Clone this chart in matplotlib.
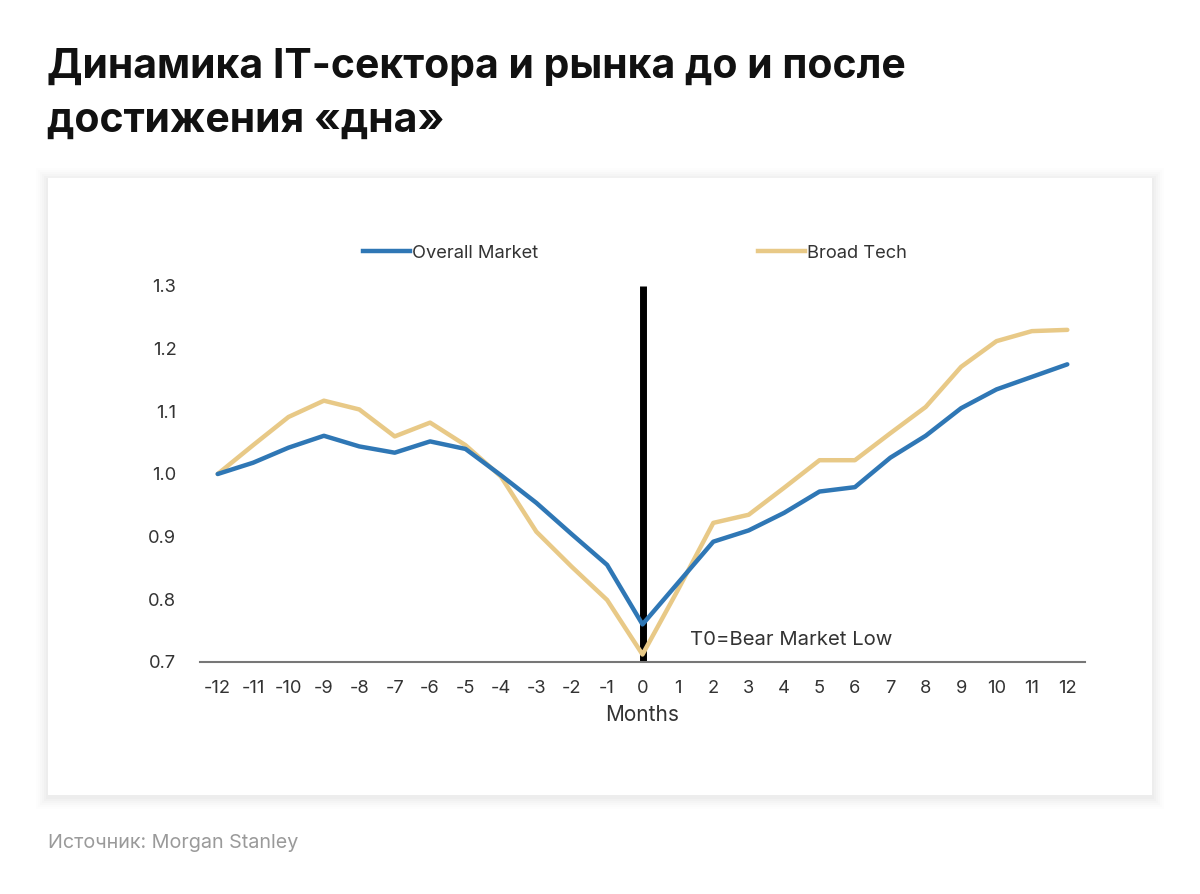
import matplotlib
matplotlib.use("Agg")
import matplotlib.pyplot as plt
from matplotlib.patches import Rectangle

months = list(range(-12, 13))
overall_market = [1.000, 1.018, 1.042, 1.061, 1.044, 1.034, 1.052, 1.040, 0.998, 0.954, 0.904, 0.855, 0.760,
                  0.826, 0.892, 0.910, 0.938, 0.972, 0.979, 1.026, 1.061, 1.105, 1.135, 1.155, 1.175]
broad_tech = [1.000, 1.046, 1.091, 1.117, 1.103, 1.060, 1.082, 1.046, 0.996, 0.908, 0.852, 0.799, 0.712,
              0.815, 0.922, 0.935, 0.978, 1.022, 1.022, 1.065, 1.107, 1.171, 1.212, 1.228, 1.230]
y_ticks = [0.7, 0.8, 0.9, 1.0, 1.1, 1.2, 1.3]

plt.rcParams['font.family'] = ['Inter', 'DejaVu Sans']

W, H = 1200, 894
fig = plt.figure(figsize=(W / 100, H / 100), dpi=100)
fig.patch.set_facecolor('white')

def fx(px):
    return px / W

def fy(py):
    return 1 - py / H

# card shadow (soft)
for i, a in enumerate([0.006, 0.008, 0.010, 0.012, 0.014, 0.016]):
    d = 12 - 2 * i
    fig.patches.append(Rectangle((fx(48 - d), fy(795 + d + 2)), fx(1104 + 2 * d), (617 + 2 * d) / H,
                                 transform=fig.transFigure, facecolor='black', alpha=a,
                                 edgecolor='none', zorder=0))
fig.patches.append(Rectangle((fx(48), fy(795)), fx(1104), 617 / H, transform=fig.transFigure,
                             facecolor='white', edgecolor='none', zorder=1))

fig.text(fx(47), fy(67), "Динамика IT-сектора и рынка до и после", fontsize=29.5,
         fontweight='bold', color='#111111', va='center', ha='left')
fig.text(fx(47), fy(121), "достижения «дна»", fontsize=29.5,
         fontweight='bold', color='#111111', va='center', ha='left')
fig.text(fx(48), fy(843), "Источник: Morgan Stanley", fontsize=14.2, color='#9a9a9a',
         va='center', ha='left')

ax = fig.add_axes([fx(200), fy(662), fx(885), 376 / H])
ax.set_facecolor('none')
ax.set_zorder(5)

blue = '#2f77b5'
gold = '#e8c987'
ax.plot(months, broad_tech, color=gold, lw=3.2, label='Broad Tech', zorder=3, solid_capstyle='round')
ax.plot(months, overall_market, color=blue, lw=3.2, label='Overall Market', zorder=4, solid_capstyle='round')
ax.vlines(0, 0.7, 1.3, color='black', lw=5, zorder=2)

ax.set_xlim(-12.5, 12.5)
ax.set_ylim(0.7, 1.3)
ax.set_xticks(months)
ax.set_xticklabels([str(m) for m in months])
ax.set_yticks(y_ticks)
ax.set_yticklabels([f"{v:.1f}" for v in y_ticks])
ax.tick_params(axis='both', length=0, labelsize=13.2, colors='#333333')
ax.tick_params(axis='x', pad=13)
ax.tick_params(axis='y', pad=17)
for s in ['top', 'right', 'left']:
    ax.spines[s].set_visible(False)
ax.spines['bottom'].set_color('#777777')
ax.spines['bottom'].set_linewidth(1.5)
ax.set_xlabel('Months', fontsize=15, color='#333333', labelpad=6)

ax.text(1.35, 0.735, 'T0=Bear Market Low', fontsize=14.6, color='#333333', ha='left', va='center')

# legend
h_b, = ax.plot([], [], color=blue, lw=3.2)
h_g, = ax.plot([], [], color=gold, lw=3.2)
leg1 = fig.legend([h_b], ['Overall Market'], loc='center left', bbox_to_anchor=(fx(346), fy(253)),
                  frameon=False, fontsize=13.2, handlelength=2.6, handletextpad=0.1, labelcolor='#333333')
leg2 = fig.legend([h_g], ['Broad Tech'], loc='center left', bbox_to_anchor=(fx(741), fy(253)),
                  frameon=False, fontsize=13.2, handlelength=2.6, handletextpad=0.1, labelcolor='#333333')

fig.savefig('out.png', dpi=100, facecolor='white')
